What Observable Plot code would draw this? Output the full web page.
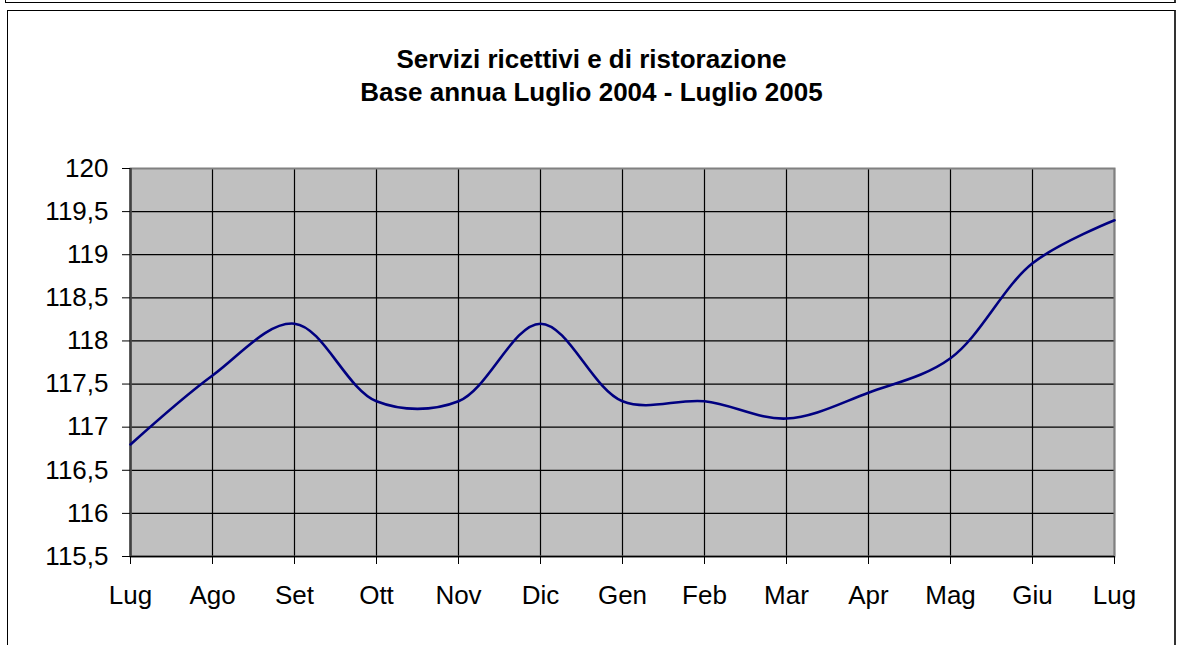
<!DOCTYPE html>
<html>
<head>
<meta charset="utf-8">
<script src="https://cdn.jsdelivr.net/npm/d3@7"></script>
<script src="https://cdn.jsdelivr.net/npm/@observablehq/plot@0.6"></script>
<style>
  html, body { margin: 0; padding: 0; background: #fff; width: 1178px; height: 645px; overflow: hidden; }
  #box1 { position: absolute; left: 5px; top: -20px; width: 1168px; height: 21px; border: 1px solid #000; border-right: 2px solid #333; }
  #box2 { position: absolute; left: 7px; top: 10px; width: 1166px; height: 700px; border: 1px solid #000; border-right: 2px solid #333; }
  #title { position: absolute; left: 8px; width: 1167px; top: 43px; text-align: center; font-family: "Liberation Sans", Arial, sans-serif; font-weight: bold; font-size: 26px; line-height: 33px; color: #000; }
  #chart { position: absolute; left: 0; top: 0; }
</style>
</head>
<body>
<div id="box1"></div>
<div id="box2"></div>
<div id="chart"></div>
<div id="title">Servizi ricettivi e di ristorazione<br>Base annua Luglio 2004 - Luglio 2005</div>
<script>
const months = ["Lug","Ago","Set","Ott","Nov","Dic","Gen","Feb","Mar","Apr","Mag","Giu","Lug"];
const values = [116.8,117.6,118.2,117.3,117.3,118.2,117.3,117.3,117.1,117.4,117.8,118.9,119.4];
const yTicks = [115.5,116,116.5,117,117.5,118,118.5,119,119.5,120];

const idx = months.map((m, i) => i);
const data = values.map((v, i) => ({i, v}));

const chart = Plot.plot({
  width: 1178,
  height: 645,
  marginLeft: 130,
  marginRight: 64,
  marginTop: 168,
  marginBottom: 89,
  style: { fontFamily: "'Liberation Sans', Arial, sans-serif", fontSize: "26px", color: "#000", background: "transparent", overflow: "visible" },
  x: { domain: [0, months.length - 1] },
  y: { domain: [yTicks[0], yTicks[yTicks.length - 1]] },
  marks: [
    Plot.frame({ fill: "#c0c0c0" }),
    Plot.ruleX(idx, { stroke: "#000", strokeWidth: 1.2 }),
    Plot.ruleY(yTicks, { stroke: "#000", strokeWidth: 1.2 }),
    Plot.frame({ stroke: "#808080", strokeWidth: 2 }),
    Plot.ruleY([yTicks[0]], { stroke: "#000", strokeWidth: 1.5 }),
    Plot.ruleX([0], { stroke: "#404040", strokeWidth: 2.5 }),
    Plot.axisY(yTicks, { tickSize: 8, tickPadding: 14, fontSize: 26, tickFormat: d => String(d).replace(".", ","), label: null, stroke: "#000" }),
    Plot.axisX(idx, { tickSize: 8, tickPadding: 21, fontSize: 26, tickFormat: i => months[i], label: null, stroke: "#000" }),
    Plot.line(data, { x: "i", y: "v", curve: "catmull-rom", stroke: "#000080", strokeWidth: 2.6 })
  ]
});
document.getElementById("chart").appendChild(chart);
</script>
</body>
</html>
